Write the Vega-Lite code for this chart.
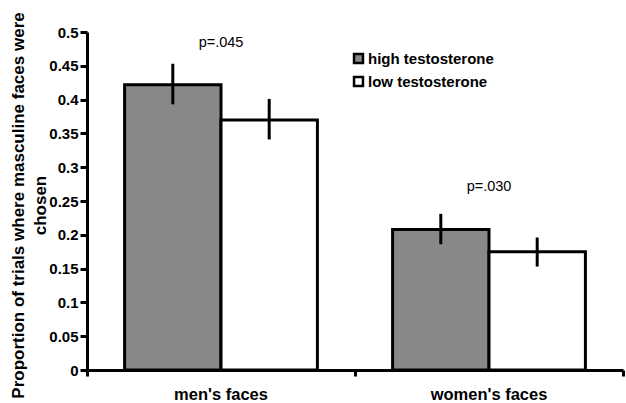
{
  "$schema": "https://vega.github.io/schema/vega-lite/v6.json",
  "autosize": "none",
  "width": 536,
  "height": 338,
  "padding": {"left": 87, "top": 32, "right": 3, "bottom": 33},
  "background": "white",
  "config": {
    "view": {"stroke": null},
    "font": "Liberation Sans",
    "axisX": {
      "title": null, "labelAngle": 0, "bandPosition": 1, "tickExtra": true,
      "domainColor": "black", "domainWidth": 3, "tickColor": "black", "tickWidth": 3, "tickSize": 6,
      "labelFontSize": 16.5, "labelFontWeight": "bold", "labelColor": "black", "labelPadding": 10
    },
    "axisY": {
      "titleFontSize": 17, "titleFontWeight": "bold", "titleColor": "black", "titleLineHeight": 22,
      "titleBaseline": "alphabetic", "titleX": -64, "titleY": 173,
      "format": "~g", "grid": false, "labelOverlap": false,
      "domainColor": "black", "domainWidth": 3, "tickColor": "black", "tickWidth": 3, "tickSize": 7,
      "labelFontSize": 15, "labelFontWeight": "bold", "labelColor": "black", "labelPadding": 2
    }
  },
  "datasets": {
    "bars": [
      {"face": "men's faces", "group": "high testosterone", "value": 0.422, "lo": 0.393, "hi": 0.453},
      {"face": "men's faces", "group": "low testosterone", "value": 0.370, "lo": 0.341, "hi": 0.401},
      {"face": "women's faces", "group": "high testosterone", "value": 0.208, "lo": 0.186, "hi": 0.231},
      {"face": "women's faces", "group": "low testosterone", "value": 0.175, "lo": 0.153, "hi": 0.196}
    ],
    "notes": [
      {"face": "men's faces", "y": 0.484, "label": "p=.045"},
      {"face": "women's faces", "y": 0.271, "label": "p=.030"}
    ]
  },
  "layer": [
    {
      "data": {"name": "bars"},
      "mark": {"type": "bar", "stroke": "black", "strokeWidth": 3, "strokeJoin": "miter"},
      "encoding": {
        "x": {
          "field": "face", "type": "nominal",
          "scale": {"paddingInner": 0, "paddingOuter": 0},
          "axis": {"title": null}
        },
        "xOffset": {
          "field": "group", "type": "nominal",
          "scale": {"paddingInner": 0, "paddingOuter": 0.39}
        },
        "y": {
          "field": "value", "type": "quantitative",
          "scale": {"domain": [0, 0.5], "nice": false},
          "axis": {
            "title": ["Proportion of trials where masculine faces were", "chosen"],
            "values": [0, 0.05, 0.1, 0.15, 0.2, 0.25, 0.3, 0.35, 0.4, 0.45, 0.5]
          }
        },
        "fill": {
          "field": "group", "type": "nominal",
          "scale": {"domain": ["high testosterone", "low testosterone"], "range": ["#888888", "#ffffff"]},
          "legend": {
            "title": null, "orient": "none", "legendX": 264, "legendY": 19,
            "symbolType": "square", "symbolSize": 80, "symbolStrokeColor": "black", "symbolStrokeWidth": 2.5,
            "labelFontSize": 15, "labelFontWeight": "bold", "labelColor": "black", "rowPadding": 4, "labelOffset": 2
          }
        }
      }
    },
    {
      "data": {"name": "bars"},
      "mark": {"type": "rule", "color": "black", "strokeWidth": 3},
      "encoding": {
        "x": {"field": "face", "type": "nominal", "axis": {"title": null}},
        "xOffset": {"field": "group", "type": "nominal"},
        "y": {
          "field": "lo", "type": "quantitative",
          "axis": {
            "title": ["Proportion of trials where masculine faces were", "chosen"],
            "values": [0, 0.05, 0.1, 0.15, 0.2, 0.25, 0.3, 0.35, 0.4, 0.45, 0.5]
          }
        },
        "y2": {"field": "hi"}
      }
    },
    {
      "data": {"name": "notes"},
      "mark": {"type": "text", "fontSize": 14.5, "color": "black", "font": "Liberation Sans"},
      "encoding": {
        "x": {"field": "face", "type": "nominal", "axis": {"title": null}},
        "y": {
          "field": "y", "type": "quantitative",
          "axis": {
            "title": ["Proportion of trials where masculine faces were", "chosen"],
            "values": [0, 0.05, 0.1, 0.15, 0.2, 0.25, 0.3, 0.35, 0.4, 0.45, 0.5]
          }
        },
        "text": {"field": "label"}
      }
    }
  ]
}
